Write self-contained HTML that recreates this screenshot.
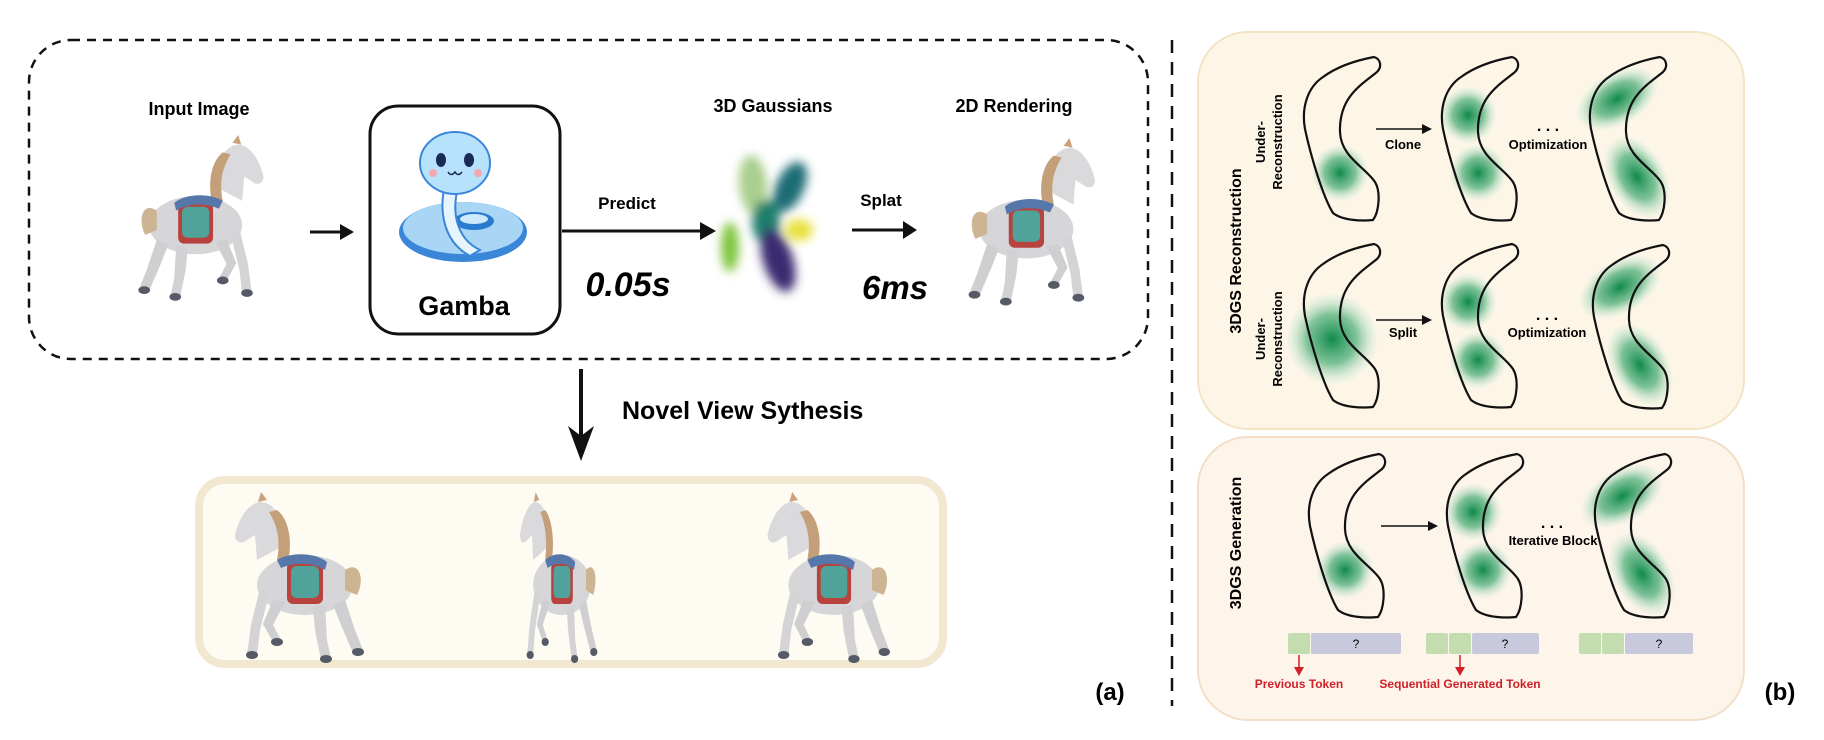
<!DOCTYPE html>
<html><head><meta charset="utf-8"><style>
html,body{margin:0;padding:0;background:#fff;}
svg{display:block;font-family:"Liberation Sans",Arial,sans-serif;}
</style></head><body>
<svg width="1824" height="740" viewBox="0 0 1824 740" xmlns="http://www.w3.org/2000/svg">
<defs>
<radialGradient id="g" cx="50%" cy="50%" r="50%">
<stop offset="0" stop-color="#0f8a4a"/><stop offset="0.55" stop-color="#5fb584" stop-opacity="0.8"/><stop offset="1" stop-color="#d8efe0" stop-opacity="0.2"/></radialGradient>
<filter id="bl" x="-50%" y="-50%" width="200%" height="200%"><feGaussianBlur stdDeviation="5"/></filter>
<path id="kid" d="M71,0 C78,2 79,10 74,15 C58,28 36,40 37,75 C38,100 62,110 72,125 C78,135 76,155 70,163 C60,164 40,164 30,156 C20,140 8,100 2,72 C-2,50 5,30 20,20 C35,9 55,3 71,0 Z" fill="none" stroke="#111" stroke-width="2.2"/>
<g id="horse">
<path d="M118,10 l6,-8 l3,10 z" fill="#c9a37c"/>
<path d="M100,55 C100,30 110,12 125,12 C140,14 148,35 150,45 C150,52 144,55 138,50 L130,45 L128,70 z" fill="#dadadc"/>
<path d="M108,20 C95,30 92,55 98,75 L108,70 C104,50 108,35 116,22 z" fill="#c4a07a"/>
<ellipse cx="80" cy="95" rx="48" ry="30" fill="#d6d6d9"/>
<path d="M40,80 C25,70 20,90 28,105 L40,100 z" fill="#cdb594"/>
<rect x="62" y="72" width="36" height="42" rx="6" fill="#b8433e"/>
<rect x="66" y="76" width="28" height="32" rx="6" fill="#4fa39a"/>
<path d="M58,72 C70,62 95,62 108,70 L104,78 C90,72 72,72 60,80 z" fill="#5577aa"/>
<path d="M40,110 L30,140 L22,160 L32,163 L44,135 L52,115 z" fill="#cfcfd2"/>
<path d="M60,115 L58,150 L54,168 L64,170 L70,140 L72,118 z" fill="#d2d2d5"/>
<path d="M100,112 L112,135 L104,150 L112,152 L122,134 L112,110 z" fill="#cfcfd2"/>
<path d="M115,100 L125,140 L128,165 L138,165 L134,135 L126,102 z" fill="#d4d4d6"/>
<ellipse cx="27" cy="162" rx="6" ry="4" fill="#555a66"/>
<ellipse cx="59" cy="169" rx="6" ry="4" fill="#555a66"/>
<ellipse cx="108" cy="152" rx="6" ry="4" fill="#555a66"/>
<ellipse cx="133" cy="165" rx="6" ry="4" fill="#555a66"/>
</g>
<g id="full">
<ellipse cx="28" cy="42" rx="44" ry="26" fill="url(#g)" transform="rotate(-30 28 42)"/>
<ellipse cx="48" cy="120" rx="44" ry="28" fill="url(#g)" transform="rotate(60 48 120)"/>
</g>
</defs>

<rect x="29" y="40" width="1119" height="319" rx="42" fill="none" stroke="#111" stroke-width="2.5" stroke-dasharray="9,7"/>
<line x1="1172" y1="40" x2="1172" y2="706" stroke="#111" stroke-width="2.5" stroke-dasharray="13,9"/>

<text x="199" y="115" font-size="18" font-weight="bold" text-anchor="middle">Input Image</text>
<use href="#horse" transform="translate(118,133) scale(0.97)"/>
<line x1="310" y1="232" x2="344" y2="232" stroke="#111" stroke-width="3"/>
<path d="M354,232 L340,224 L340,240 z" fill="#111"/>

<rect x="370" y="106" width="190" height="228" rx="28" fill="#fff" stroke="#111" stroke-width="3"/>
<g>
<ellipse cx="463" cy="232" rx="64" ry="30" fill="#3a86d8"/>
<ellipse cx="463" cy="228" rx="60" ry="26" fill="#a9d6f5"/>
<ellipse cx="474" cy="221" rx="20" ry="9" fill="#2a7bd0"/>
<ellipse cx="474" cy="219" rx="14" ry="5" fill="#cde9fb"/>
<path d="M445,185 C440,205 440,240 470,256 L480,250 C455,238 452,210 458,188 z" fill="#e6f4fd" stroke="#3a86d8" stroke-width="2"/>
<ellipse cx="455" cy="163" rx="35" ry="31" fill="#b7e2fb" stroke="#3a86d8" stroke-width="2"/>
<ellipse cx="441" cy="160" rx="5" ry="7" fill="#1a2a55"/>
<ellipse cx="469" cy="160" rx="5" ry="7" fill="#1a2a55"/>
<circle cx="433" cy="173" r="4" fill="#f5a8b0"/>
<circle cx="478" cy="173" r="4" fill="#f5a8b0"/>
<path d="M448,172 q3,5 7,0 q3,5 7,0" fill="none" stroke="#1a2a55" stroke-width="1.5"/>
</g>
<text x="464" y="315" font-size="27" font-weight="bold" text-anchor="middle">Gamba</text>

<text x="627" y="209" font-size="17" font-weight="bold" text-anchor="middle">Predict</text>
<line x1="562" y1="231" x2="704" y2="231" stroke="#111" stroke-width="3"/>
<path d="M716,231 L700,222 L700,240 z" fill="#111"/>
<text x="628" y="296" font-size="34" font-weight="bold" font-style="italic" text-anchor="middle">0.05s</text>

<text x="773" y="112" font-size="18" font-weight="bold" text-anchor="middle">3D Gaussians</text>
<g filter="url(#bl)">
<ellipse cx="753" cy="185" rx="14" ry="30" fill="#a9cf8e" transform="rotate(-5 753 185)"/>
<ellipse cx="790" cy="187" rx="14" ry="27" fill="#1f6c74" transform="rotate(25 790 187)"/>
<ellipse cx="766" cy="222" rx="14" ry="22" fill="#1a7e6c"/>
<ellipse cx="730" cy="247" rx="9" ry="25" fill="#7fc53e"/>
<ellipse cx="799" cy="230" rx="14" ry="11" fill="#e8e03c"/>
<ellipse cx="778" cy="260" rx="15" ry="33" fill="#3b2c70" transform="rotate(-18 778 260)"/>
</g>

<text x="881" y="206" font-size="17" font-weight="bold" text-anchor="middle">Splat</text>
<line x1="852" y1="230" x2="906" y2="230" stroke="#111" stroke-width="3"/>
<path d="M917,230 L903,221 L903,239 z" fill="#111"/>
<text x="895" y="299" font-size="33" font-weight="bold" font-style="italic" text-anchor="middle">6ms</text>

<text x="1014" y="112" font-size="18" font-weight="bold" text-anchor="middle">2D Rendering</text>
<use href="#horse" transform="translate(948,136) scale(0.98)"/>

<line x1="581" y1="369" x2="581" y2="438" stroke="#111" stroke-width="4"/>
<path d="M581,461 L568,426 L581,436 L594,426 z" fill="#111"/>
<text x="622" y="419" font-size="25" font-weight="bold">Novel View Sythesis</text>

<rect x="199" y="480" width="744" height="184" rx="26" fill="#fefbf2" stroke="#f2e8d0" stroke-width="8"/>
<use href="#horse" transform="translate(385,490) scale(-1.0,1.0)"/>
<g transform="translate(520,490) scale(0.6,1)"><use href="#horse" transform="translate(150,0) scale(-1,1)"/></g>
<use href="#horse" transform="translate(910,490) scale(-0.95,1)"/>

<text x="1110" y="700" font-size="24" font-weight="bold" text-anchor="middle">(a)</text>

<rect x="1198" y="32" width="546" height="397" rx="50" fill="#fdf6e7" stroke="#f4e4c6" stroke-width="2"/>
<rect x="1198" y="437" width="546" height="283" rx="50" fill="#fdf4ea" stroke="#f3dfc8" stroke-width="2"/>

<text transform="translate(1241,251) rotate(-90)" font-size="16" font-weight="bold" text-anchor="middle">3DGS Reconstruction</text>
<text transform="translate(1273,142) rotate(-90)" font-size="13" font-weight="bold" text-anchor="middle"><tspan x="0" dy="-8">Under-</tspan><tspan x="0" dy="17">Reconstruction</tspan></text>
<text transform="translate(1273,339) rotate(-90)" font-size="13" font-weight="bold" text-anchor="middle"><tspan x="0" dy="-8">Under-</tspan><tspan x="0" dy="17">Reconstruction</tspan></text>
<text transform="translate(1241,543) rotate(-90)" font-size="16" font-weight="bold" text-anchor="middle">3DGS Generation</text>

<g transform="translate(1303,57)">
<circle cx="37" cy="116" r="28" fill="url(#g)"/><use href="#kid"/></g>
<g transform="translate(1441,57)">
<circle cx="27" cy="58" r="28" fill="url(#g)"/><circle cx="37" cy="116" r="28" fill="url(#g)"/><use href="#kid"/></g>
<g transform="translate(1589,57)"><use href="#full"/><use href="#kid"/></g>
<line x1="1376" y1="129" x2="1424" y2="129" stroke="#111" stroke-width="1.5"/><path d="M1432,129 L1422,124 L1422,134 z" fill="#111"/>
<text x="1403" y="149" font-size="13" font-weight="bold" text-anchor="middle">Clone</text>
<text x="1548" y="131" font-size="16" font-weight="bold" text-anchor="middle">. . .</text>
<text x="1548" y="149" font-size="13" font-weight="bold" text-anchor="middle">Optimization</text>

<g transform="translate(1303,244)">
<circle cx="29" cy="95" r="45" fill="url(#g)"/><use href="#kid"/></g>
<g transform="translate(1441,244)">
<circle cx="27" cy="58" r="28" fill="url(#g)"/><circle cx="37" cy="116" r="28" fill="url(#g)"/><use href="#kid"/></g>
<g transform="translate(1592,245)"><use href="#full"/><use href="#kid"/></g>
<line x1="1376" y1="320" x2="1424" y2="320" stroke="#111" stroke-width="1.5"/><path d="M1432,320 L1422,315 L1422,325 z" fill="#111"/>
<text x="1403" y="337" font-size="13" font-weight="bold" text-anchor="middle">Split</text>
<text x="1547" y="320" font-size="16" font-weight="bold" text-anchor="middle">. . .</text>
<text x="1547" y="337" font-size="13" font-weight="bold" text-anchor="middle">Optimization</text>

<g transform="translate(1308,454)">
<circle cx="37" cy="116" r="28" fill="url(#g)"/><use href="#kid"/></g>
<g transform="translate(1446,454)">
<circle cx="27" cy="58" r="28" fill="url(#g)"/><circle cx="37" cy="116" r="28" fill="url(#g)"/><use href="#kid"/></g>
<g transform="translate(1594,454)"><use href="#full"/><use href="#kid"/></g>
<line x1="1381" y1="526" x2="1430" y2="526" stroke="#111" stroke-width="1.5"/><path d="M1438,526 L1428,521 L1428,531 z" fill="#111"/>
<text x="1552" y="528" font-size="16" font-weight="bold" text-anchor="middle">. . .</text>
<text x="1553" y="545" font-size="13" font-weight="bold" text-anchor="middle">Iterative Block</text>

<g font-size="12" text-anchor="middle">
<rect x="1288" y="633" width="22" height="21" rx="2" fill="#c3ddb0"/>
<rect x="1311" y="633" width="90" height="21" rx="2" fill="#c9c9dd"/>
<text x="1356" y="648">?</text>
<rect x="1426" y="633" width="22" height="21" rx="2" fill="#c3ddb0"/>
<rect x="1449" y="633" width="22" height="21" rx="2" fill="#c3ddb0"/>
<rect x="1472" y="633" width="67" height="21" rx="2" fill="#c9c9dd"/>
<text x="1505" y="648">?</text>
<rect x="1579" y="633" width="22" height="21" rx="2" fill="#c3ddb0"/>
<rect x="1602" y="633" width="22" height="21" rx="2" fill="#c3ddb0"/>
<rect x="1625" y="633" width="68" height="21" rx="2" fill="#c9c9dd"/>
<text x="1659" y="648">?</text>
</g>
<line x1="1299" y1="655" x2="1299" y2="669" stroke="#d0202a" stroke-width="1.5"/><path d="M1299,676 L1294,667 L1304,667 z" fill="#d0202a"/>
<line x1="1460" y1="655" x2="1460" y2="669" stroke="#d0202a" stroke-width="1.5"/><path d="M1460,676 L1455,667 L1465,667 z" fill="#d0202a"/>
<text x="1299" y="688" font-size="12" font-weight="bold" fill="#d0202a" text-anchor="middle">Previous Token</text>
<text x="1460" y="688" font-size="12" font-weight="bold" fill="#d0202a" text-anchor="middle">Sequential Generated Token</text>

<text x="1780" y="700" font-size="24" font-weight="bold" text-anchor="middle">(b)</text>
</svg>
</body></html>
